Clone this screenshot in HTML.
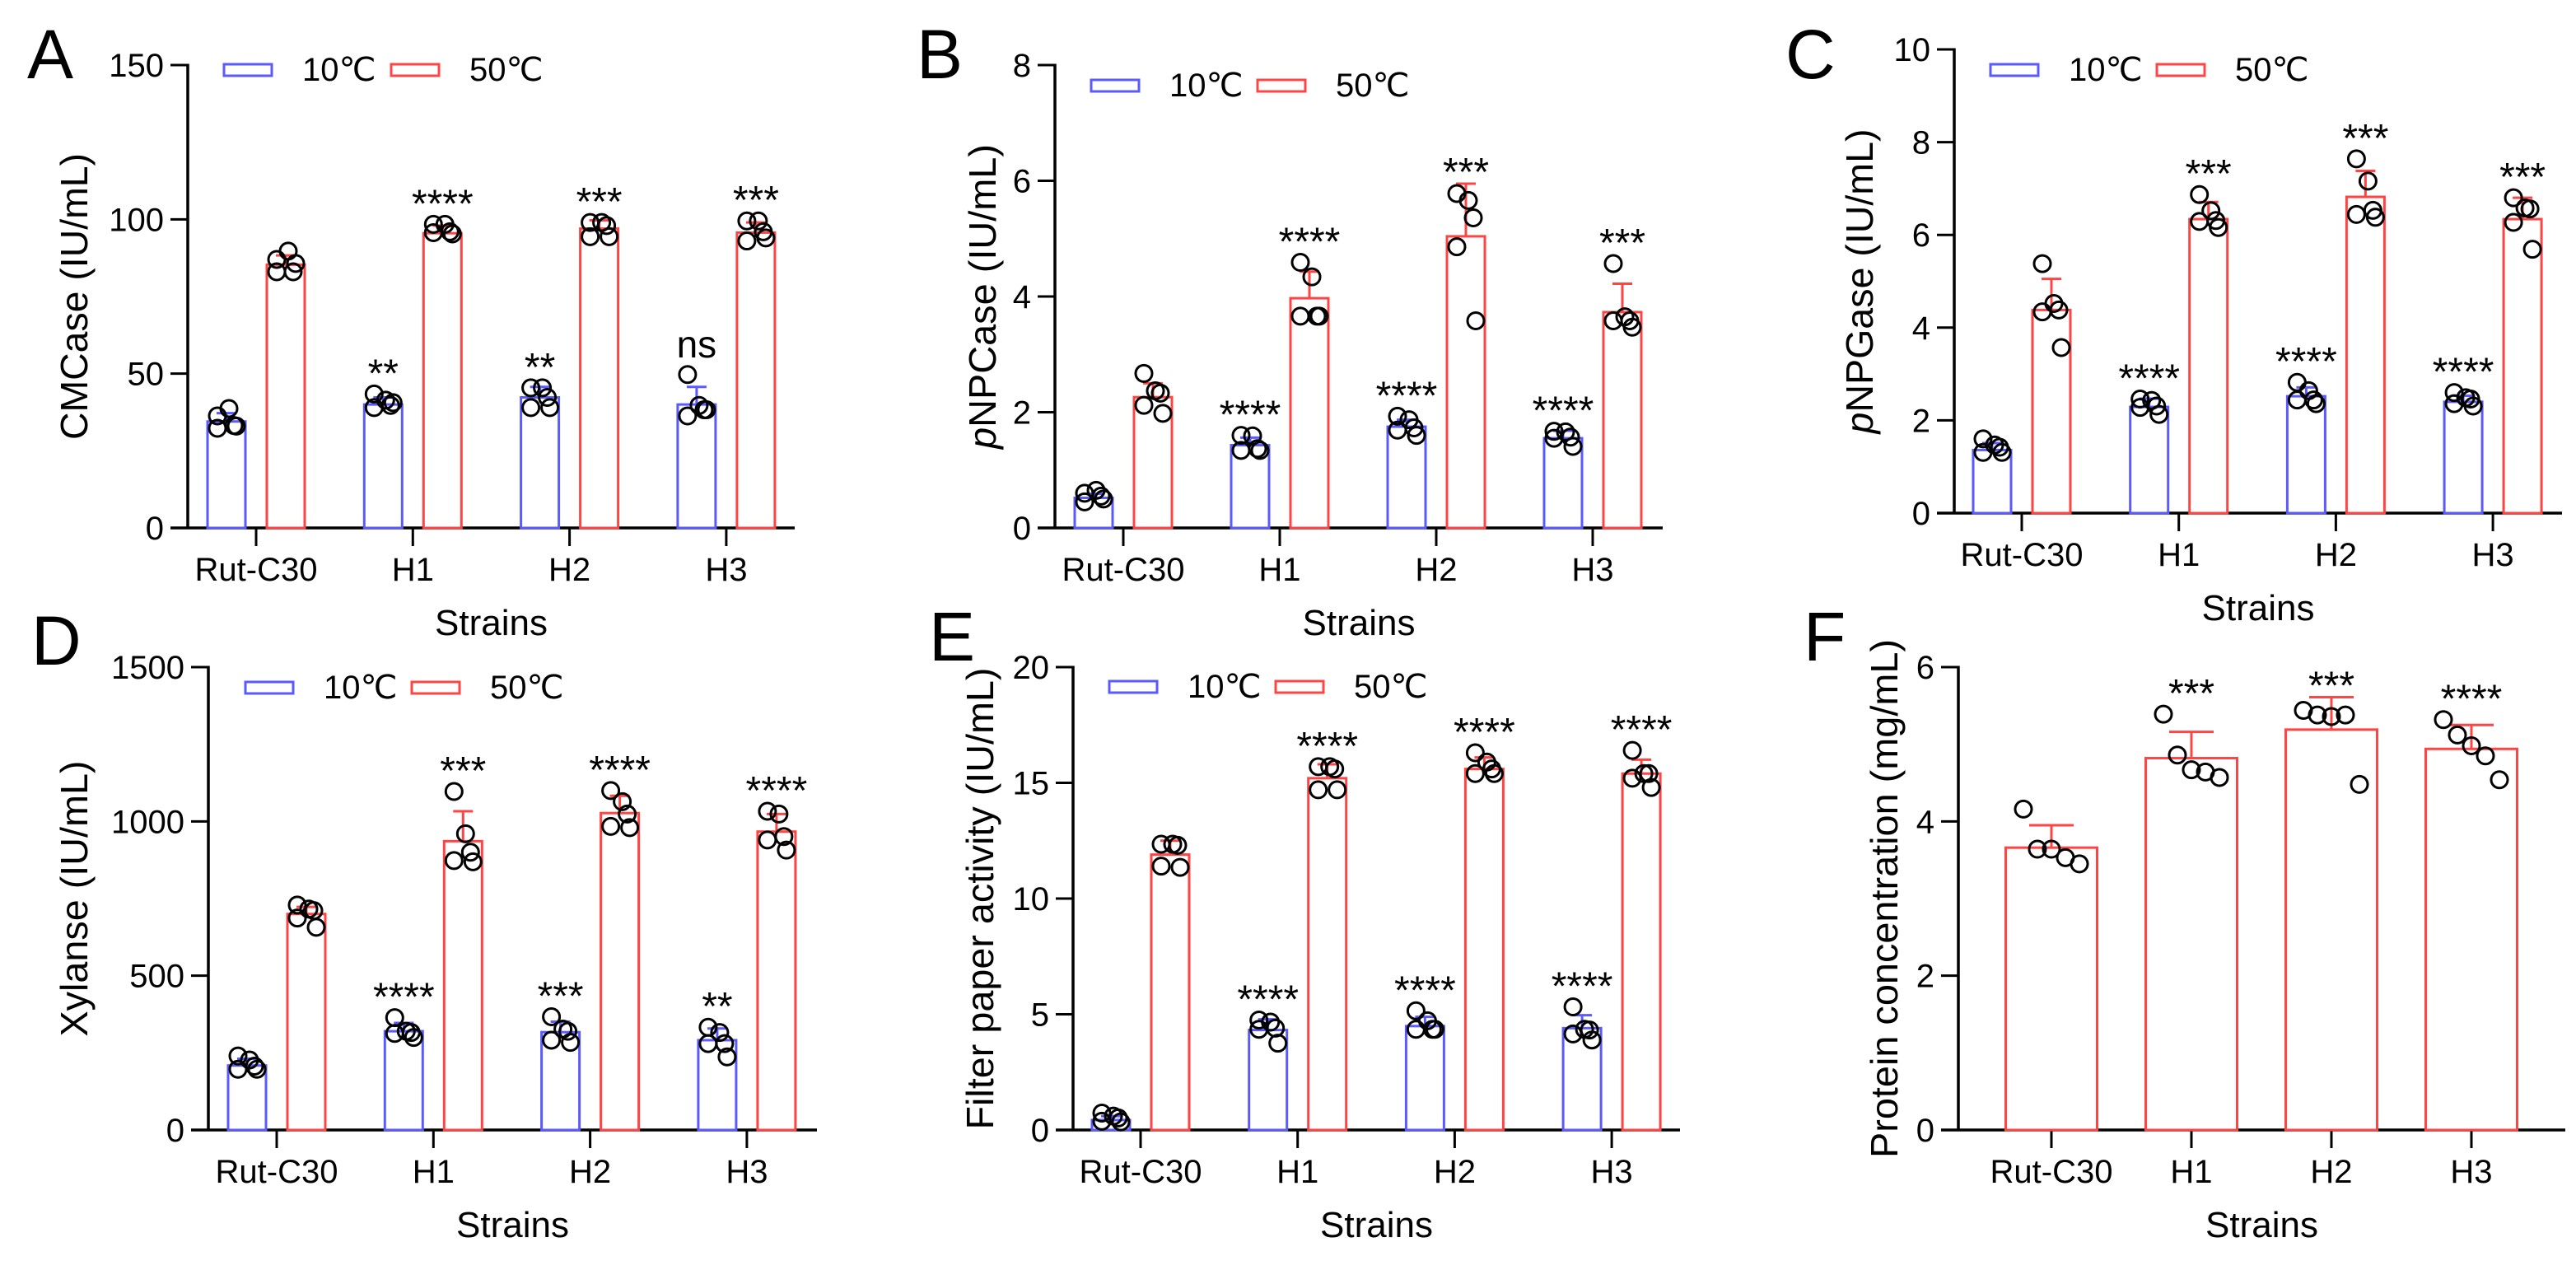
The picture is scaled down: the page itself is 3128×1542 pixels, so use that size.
<!DOCTYPE html>
<html><head><meta charset="utf-8"><style>
html,body{margin:0;padding:0;background:#fff;}
svg text{font-family:"Liberation Sans","DejaVu Sans",sans-serif;fill:#000;}
</style></head><body>
<svg id="fig" xmlns="http://www.w3.org/2000/svg" width="3128" height="1537" viewBox="0 0 3128 1537"></svg>
<script>
const categories = ["Rut-C30","H1","H2","H3"];
// Panel A: CMCase
const A_ticks = [0,50,100,150];
const A_blue_mean = [34.5,40,42.3,40];
const A_blue_sd = [2.7,2.3,3.4,5.7];
const A_blue_pts = [[36.3,38.7,33.2,32.3,33.0],[43.4,41.4,39.7,39,40.6],[45.4,45.4,42.3,39,39],[49.7,39.7,38.3,36.3,38.3]];
const A_blue_sig = ["","**","**","ns"];
const A_red_mean = [85.3,95.5,97,95.7];
const A_red_sd = [3,2.5,2.7,3.3];
const A_red_pts = [[87,89.7,83,83,85.7],[98.4,98.4,96,95.7,95.3],[99,99,98,94.4,94.4],[99.5,99.5,96,93,94]];
const A_red_sig = ["","****","***","***"];
// Panel B: pNPCase
const B_ticks = [0,2,4,6,8];
const B_blue_mean = [0.52,1.43,1.75,1.55];
const B_blue_sd = [0.07,0.13,0.12,0.13];
const B_blue_pts = [[0.6,0.65,0.55,0.45,0.5],[1.6,1.59,1.37,1.34,1.34],[1.93,1.87,1.73,1.69,1.6],[1.67,1.66,1.57,1.55,1.41]];
const B_blue_sig = ["","****","****","****"];
const B_red_mean = [2.26,3.97,5.04,3.73];
const B_red_sd = [0.24,0.46,0.91,0.49];
const B_red_pts = [[2.67,2.37,2.33,2.12,1.98],[4.59,4.34,3.66,3.66,3.66],[5.78,5.66,5.36,4.86,3.58],[4.57,3.65,3.58,3.58,3.47]];
const B_red_sig = ["","****","***","***"];
// Panel C: pNPGase
const C_ticks = [0,2,4,6,8,10];
const C_blue_mean = [1.36,2.29,2.52,2.4];
const C_blue_sd = [0.15,0.18,0.19,0.13];
const C_blue_pts = [[1.6,1.47,1.42,1.31,1.31],[2.46,2.43,2.31,2.28,2.13],[2.82,2.64,2.44,2.44,2.36],[2.6,2.49,2.46,2.36,2.31]];
const C_blue_sig = ["","****","****","****"];
const C_red_mean = [4.38,6.34,6.82,6.34];
const C_red_sd = [0.67,0.37,0.56,0.46];
const C_red_pts = [[5.38,4.52,4.38,4.34,3.57],[6.87,6.52,6.31,6.29,6.16],[7.64,7.16,6.53,6.44,6.38],[6.8,6.58,6.56,6.27,5.69]];
const C_red_sig = ["","***","***","***"];
// Panel D: Xylanse
const D_ticks = [0,500,1000,1500];
const D_blue_mean = [209,320,317,291];
const D_blue_sd = [22,27,34,38];
const D_blue_pts = [[240,227,207,197,197],[364,320,316,313,300],[367,327,320,291,284],[333,316,280,280,237]];
const D_blue_sig = ["","****","***","**"];
const D_red_mean = [700,936,1027,967];
const D_red_sd = [23,97,56,57];
const D_red_pts = [[729,716,711,687,657],[1097,960,900,873,869],[1100,1064,1024,984,980],[1033,1024,951,940,907]];
const D_red_sig = ["","***","****","****"];
// Panel E: Filter paper activity
const E_ticks = [0,5,10,15,20];
const E_blue_mean = [0.43,4.32,4.49,4.4];
const E_blue_sd = [0.17,0.46,0.4,0.56];
const E_blue_pts = [[0.73,0.6,0.52,0.38,0.35],[4.75,4.66,4.4,4.35,3.75],[5.15,4.72,4.35,4.35,4.35],[5.32,4.35,4.32,4.15,3.89]];
const E_blue_sig = ["","****","****","****"];
const E_red_mean = [11.9,15.2,15.6,15.4];
const E_red_sd = [0.6,0.6,0.5,0.6];
const E_red_pts = [[12.35,12.35,12.3,11.4,11.35],[15.7,15.7,15.6,14.7,14.7],[16.3,15.9,15.6,15.4,15.4],[16.4,15.4,15.4,15.2,14.8]];
const E_red_sig = ["","****","****","****"];
// Panel F: Protein concentration
const F_ticks = [0,2,4,6];
const F_mean = [3.66,4.82,5.19,4.94];
const F_sd = [0.29,0.34,0.42,0.31];
const F_pts = [[4.16,3.64,3.64,3.53,3.45],[5.39,4.86,4.67,4.64,4.57],[5.44,5.38,5.36,5.38,4.48],[5.32,5.12,4.98,4.85,4.54]];
const F_sig = ["","***","***","****"];

const BLUE="#5a5aff", RED="#ff4444";
const svg=document.getElementById('fig');
const NS="http://www.w3.org/2000/svg";
function mk(tag,attrs,parent){const e=document.createElementNS(NS,tag);for(const k in attrs)e.setAttribute(k,attrs[k]);(parent||svg).appendChild(e);return e;}

function panel(L){
  const g=mk('g',{});
  
  
  const ymax=L.ticks[L.ticks.length-1];
  const Y=v=>L.y0-(v/ymax)*(L.y0-L.yTop);
  // letter
  const lt=mk('text',{x:L.lx,y:L.ly,'font-size':84},g);lt.textContent=L.id;
  
  
  // y axis
  const ya=mk('line',{x1:L.ax,x2:L.ax,y1:L.yTop-1.5,y2:L.y0,stroke:'#000','stroke-width':3.5},g);
  
  
  L.ticks.forEach(t=>{
    const yy=Y(t);
    const tl=mk('line',{x1:L.ax-21,x2:L.ax,y1:yy,y2:yy,stroke:'#000','stroke-width':3},g);
    
    
    const tx=mk('text',{x:L.ax-29,y:yy+14,'font-size':40,'text-anchor':'end'},g);tx.textContent=t;
    
    
  });
  // x axis
  const xa=mk('line',{x1:L.ax-21,x2:L.xEnd,y1:L.y0,y2:L.y0,stroke:'#000','stroke-width':3.5},g);
  
  
  categories.forEach((c,i)=>{
    const cx=L.c0+i*L.step;
    const tl=mk('line',{x1:cx,x2:cx,y1:L.y0,y2:L.y0+22,stroke:'#000','stroke-width':3},g);
    
    
    const tx=mk('text',{x:cx,y:L.y0+64,'font-size':40,'text-anchor':'middle'},g);tx.textContent=c;
    
    
  });
  const xt=mk('text',{x:(L.ax+L.xEnd)/2,y:L.y0+130,'font-size':44,'text-anchor':'middle'},g);xt.textContent='Strains';
  
  
  // y title
  const ycy=(L.yTop+L.y0)/2;
  const yt=mk('text',{x:0,y:0,'font-size':46,'text-anchor':'middle',transform:`translate(${L.tx+16},${ycy}) rotate(-90)`,textLength:L.tlen,lengthAdjust:'spacingAndGlyphs'},g);
  if(L.italicP){const p=mk('tspan',{'font-style':'italic'},yt);p.textContent='p';const r=mk('tspan',{},yt);r.textContent=L.title;}
  else yt.textContent=L.title;
  
  
  // series
  L.series.forEach(s=>{
    s.mean.forEach((m,i)=>{
      const cx=L.c0+i*L.step+s.off;
      const hw=L.bw/2;
      const bar=mk('rect',{x:cx-hw,y:Y(m),width:L.bw,height:L.y0-Y(m),fill:'#fff',stroke:s.color,'stroke-width':3},g);
      
      
      const top=Y(m+s.sd[i]);
      const eb=mk('path',{d:`M${cx},${Y(m)}V${top}M${cx-L.cap},${top}H${cx+L.cap}`,stroke:s.color,'stroke-width':3,fill:'none'},g);
      
      
      let minPx=top;
      s.pts[i].forEach((v,j)=>{
        const py=Y(v);
        minPx=Math.min(minPx,py-11);
        const dot=mk('circle',{cx:cx+L.jit[j],cy:py,r:10,fill:'none',stroke:'#000','stroke-width':3},g);
        
        
      });
      const sig=s.sig[i];
      if(sig){
        const isNs=sig==='ns';
        const st=mk('text',{x:cx,y:isNs?minPx-10:minPx+2,'font-size':isNs?46:48,'text-anchor':'middle'},g);
        st.textContent=sig;
        
        
      }
    });
  });
  // legend
  if(L.leg){
    const [lx,ly,rx]=L.leg;
    [[lx,BLUE,'10℃','legend-10c'],[rx,RED,'50℃','legend-50c']].forEach(([x,c,t,n])=>{
      const r=mk('rect',{x:x,y:ly,width:58,height:14,fill:'#fff',stroke:c,'stroke-width':3},g);
      
      
      const tx=mk('text',{x:x+95,y:ly+20,'font-size':40},g);tx.textContent=t;
      
      
    });
  }
}
const J=[-11,3,9,-11,12];
function two(key,bm,bs,bp,bg,rm,rs,rp,rg){return [
  {key:'10c',color:BLUE,off:-36,mean:bm,sd:bs,pts:bp,sig:bg},
  {key:'50c',color:RED,off:36,mean:rm,sd:rs,pts:rp,sig:rg}];}

panel({id:'A',lx:33,ly:95,ax:228,xEnd:965,yTop:79,y0:641,ticks:A_ticks,c0:311,step:190.3,bw:46,cap:12,jit:J,
  tx:90,tlen:348,title:'CMCase (IU/mL)',leg:[272,78,475],
  series:two('A',A_blue_mean,A_blue_sd,A_blue_pts,A_blue_sig,A_red_mean,A_red_sd,A_red_pts,A_red_sig)});
panel({id:'B',lx:1113,ly:95,ax:1281,xEnd:2019,yTop:79,y0:641,ticks:B_ticks,c0:1364,step:190,bw:46,cap:12,jit:J,
  tx:1193,tlen:370,italicP:true,title:'NPCase (IU/mL)',leg:[1325,97,1527],
  series:two('B',B_blue_mean,B_blue_sd,B_blue_pts,B_blue_sig,B_red_mean,B_red_sd,B_red_pts,B_red_sig)});
panel({id:'C',lx:2168,ly:95,ax:2373,xEnd:3111,yTop:60,y0:623,ticks:C_ticks,c0:2455,step:190.7,bw:46,cap:12,jit:J,
  tx:2258,tlen:370,italicP:true,title:'NPGase (IU/mL)',leg:[2417,78,2619],
  series:two('C',C_blue_mean,C_blue_sd,C_blue_pts,C_blue_sig,C_red_mean,C_red_sd,C_red_pts,C_red_sig)});
panel({id:'D',lx:38,ly:807,ax:253,xEnd:992,yTop:810,y0:1372,ticks:D_ticks,c0:336,step:190.3,bw:46,cap:12,jit:J,
  tx:90,tlen:335,title:'Xylanse (IU/mL)',leg:[298,828,500],
  series:two('D',D_blue_mean,D_blue_sd,D_blue_pts,D_blue_sig,D_red_mean,D_red_sd,D_red_pts,D_red_sig)});
panel({id:'E',lx:1128,ly:802,ax:1303,xEnd:2040,yTop:810,y0:1372,ticks:E_ticks,c0:1385,step:190.7,bw:46,cap:12,jit:J,
  tx:1190,tlen:561,title:'Filter paper activity (IU/mL)',leg:[1347,827,1549],
  series:two('E',E_blue_mean,E_blue_sd,E_blue_pts,E_blue_sig,E_red_mean,E_red_sd,E_red_pts,E_red_sig)});
panel({id:'F',lx:2190,ly:802,ax:2378,xEnd:3115,yTop:810,y0:1372,ticks:F_ticks,c0:2491,step:170,bw:111,cap:27,jit:[-34,0,0,34,0].map((v,i)=>[-34,-17,0,17,34][i]),
  tx:2288,tlen:630,title:'Protein concentration (mg/mL)',leg:null,
  series:[{key:'protein',color:RED,off:0,mean:F_mean,sd:F_sd,pts:F_pts,sig:F_sig}]});
</script>
</body></html>
